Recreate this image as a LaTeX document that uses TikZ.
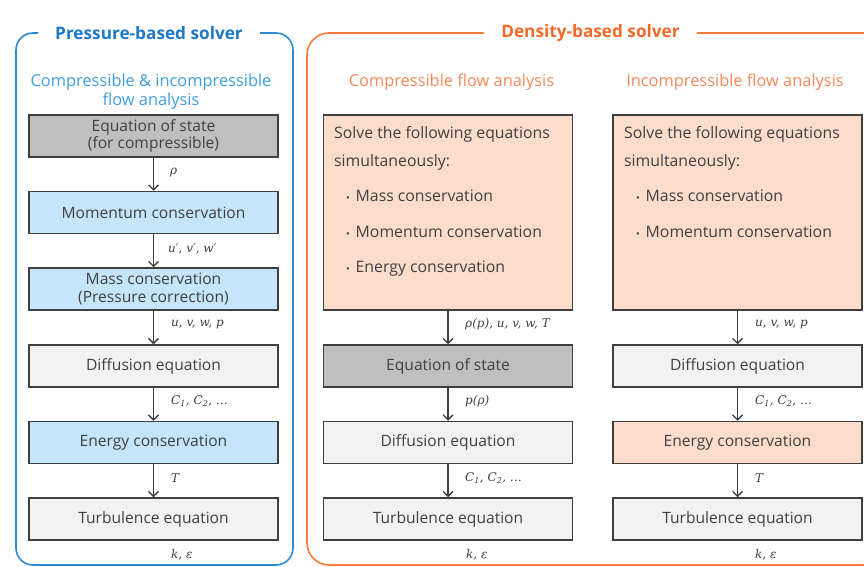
\documentclass[tikz,border=0pt]{standalone}
\usepackage{fontspec}
\setmainfont{Open Sans}
\newfontfamily\labfont{DejaVu Serif}
\usetikzlibrary{arrows.meta}
\definecolor{txt}{HTML}{404040}
\definecolor{boxline}{HTML}{3F3F3F}
\definecolor{frameblue}{HTML}{2F8AD4}
\definecolor{titleblue}{HTML}{1E78C8}
\definecolor{subblue}{HTML}{3E9FE0}
\definecolor{frameorange}{HTML}{F77B3D}
\definecolor{titleorange}{HTML}{F26A2A}
\definecolor{suborange}{HTML}{F48A5C}
\definecolor{graydark}{HTML}{BFBFBF}
\definecolor{graylight}{HTML}{F2F2F2}
\definecolor{bluefill}{HTML}{C5E5FB}
\definecolor{peach}{HTML}{FCDCCB}
\newcommand{\sbs}[1]{\textsubscript{#1}}
\begin{document}
\begin{tikzpicture}[x=1pt,y=-1pt,
  stepbox/.style={draw=boxline, line width=1.5pt, minimum width=249pt,
    minimum height=42pt, inner sep=0pt, text=txt, align=center,
    font=\fontsize{15.6}{17.5}\selectfont},
  bigbox/.style={stepbox, minimum height=195pt},
  flow/.style={draw=boxline, line width=1.3pt,
    -{Straight Barb[length=5pt,width=10pt,line width=1.3pt]}},
  lab/.style={anchor=west, inner sep=0pt, text=txt,
    font=\labfont\itshape\fontsize{12}{12}\selectfont},
  line/.style={anchor=west, inner sep=0pt, text=txt,
    font=\fontsize{15.8}{18}\selectfont},
  frametitle/.style={inner xsep=17pt, inner ysep=0pt,
    font=\bfseries\fontsize{17.2}{20}\selectfont},
  subtitle/.style={inner sep=0pt, align=center,
    font=\fontsize{16.4}{19}\selectfont},
]
\useasboundingbox (0,0) rectangle (864,567);
\clip (0,0) rectangle (864,567);
\fill[white] (0,0) rectangle (864,567);

\newcommand{\bul}{\makebox[9.5pt][l]{\fontsize{10}{10}\selectfont\textbullet}}

% ---------- pressure-based solver ----------
\node[frametitle, text=titleblue] (ptitle) at (149,33) {Pressure-based solver};
\draw[frameblue, line width=1.6pt, rounded corners=17pt]
  (ptitle.west) -- (16,33) -- (16,565) -- (293,565) -- (293,33) -- (ptitle.east);
\node[subtitle, text=subblue] (psub) at (151,92)
  {Compressible \& incompressible\\flow analysis};

\node[stepbox, fill=graydark]  (p1) at (153.5,136)   {Equation of state\\(for compressible)};
\node[stepbox, fill=bluefill]  (p2) at (153.5,212.5) {Momentum conservation};
\node[stepbox, fill=bluefill]  (p3) at (153.5,289)   {Mass conservation\\(Pressure correction)};
\node[stepbox, fill=graylight] (p4) at (153.5,366)   {Diffusion equation};
\node[stepbox, fill=bluefill]  (p5) at (153.5,442.5) {Energy conservation};
\node[stepbox, fill=graylight] (p6) at (153.5,519)   {Turbulence equation};

\draw[flow] (p1) -- (p2);
\draw[flow] (p2) -- (p3);
\draw[flow] (p3) -- (p4);
\draw[flow] (p4) -- (p5);
\draw[flow] (p5) -- (p6);

\node[lab] (pl1) at (170,173) {ρ};
\node[lab] (pl2) at (168,249) {u′, v′, w′};
\node[lab] (pl3) at (171,325) {u, v, w, p};
\node[lab] (pl4) at (171,401) {C\sbs{1}, C\sbs{2}, …};
\node[lab] (pl5) at (171,478) {T};
\node[lab] (pl6) at (171,555) {k, ε};

% ---------- density-based solver ----------
\node[frametitle, text=titleorange] (dtitle) at (590.5,33) {Density-based solver};
\draw[frameorange, line width=1.6pt, rounded corners=22pt]
  (dtitle.west) -- (307,33) -- (307,565) -- (885,565) -- (885,33) -- (dtitle.east);

% compressible column
\node[subtitle, text=suborange] (csub) at (451.5,82) {Compressible flow analysis};
\node[bigbox, fill=peach] (c1) at (448,212.5) {};
\node[line] (c1a) at (334,134) {Solve the following equations};
\node[line] (c1b) at (334,162) {simultaneously:};
\node[line] (c1c) at (346,196) {\bul Mass conservation};
\node[line] (c1d) at (346,232) {\bul Momentum conservation};
\node[line] (c1e) at (346,269) {\bul Energy conservation};

\node[stepbox, fill=graydark]  (c2) at (448,366)   {Equation of state};
\node[stepbox, fill=graylight] (c3) at (448,442.5) {Diffusion equation};
\node[stepbox, fill=graylight] (c4) at (448,519)   {Turbulence equation};

\draw[flow] (c1) -- (c2);
\draw[flow] (c2) -- (c3);
\draw[flow] (c3) -- (c4);

\node[lab] (cl1) at (465,324) {ρ(p), u, v, w, T};
\node[lab] (cl2) at (465,401) {p(ρ)};
\node[lab] (cl3) at (465,478) {C\sbs{1}, C\sbs{2}, …};
\node[lab] (cl4) at (466,555) {k, ε};

% incompressible column
\node[subtitle, text=suborange] (isub) at (735,82) {Incompressible flow analysis};
\node[bigbox, fill=peach] (i1) at (737.5,212.5) {};
\node[line] (i1a) at (624,134) {Solve the following equations};
\node[line] (i1b) at (624,162) {simultaneously:};
\node[line] (i1c) at (636,196) {\bul Mass conservation};
\node[line] (i1d) at (636,232) {\bul Momentum conservation};

\node[stepbox, fill=graylight] (i2) at (737.5,366)   {Diffusion equation};
\node[stepbox, fill=peach]     (i3) at (737.5,442.5) {Energy conservation};
\node[stepbox, fill=graylight] (i4) at (737.5,519)   {Turbulence equation};

\draw[flow] (i1) -- (i2);
\draw[flow] (i2) -- (i3);
\draw[flow] (i3) -- (i4);

\node[lab] (il1) at (755,325) {u, v, w, p};
\node[lab] (il2) at (755,401) {C\sbs{1}, C\sbs{2}, …};
\node[lab] (il3) at (755,478) {T};
\node[lab] (il4) at (755,555) {k, ε};
\end{tikzpicture}
\end{document}
